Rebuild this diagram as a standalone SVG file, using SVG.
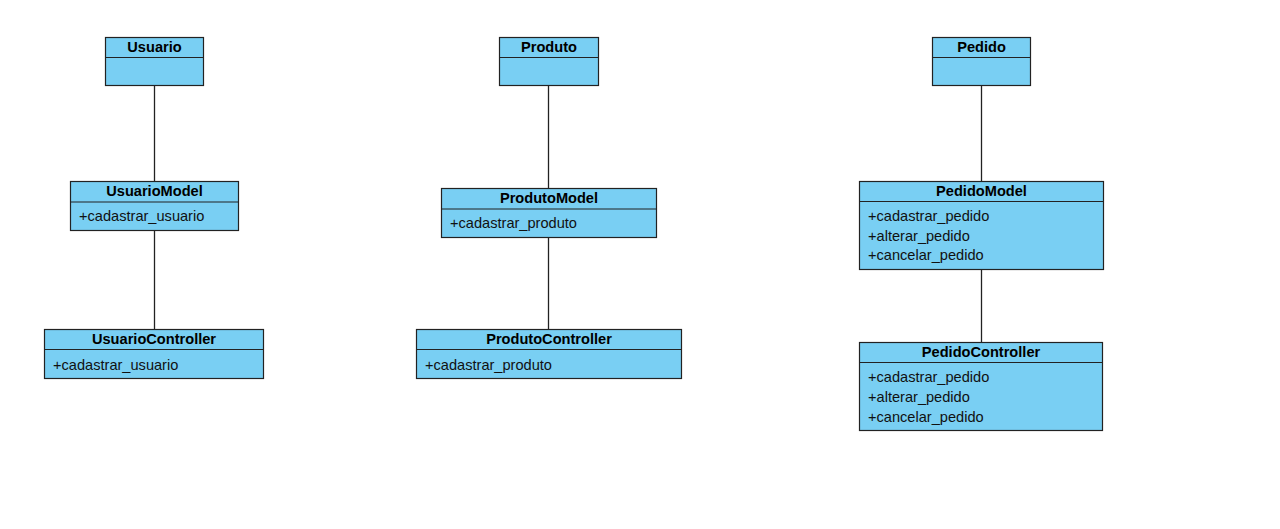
<svg xmlns="http://www.w3.org/2000/svg" width="1280" height="529" viewBox="0 0 1280 529">
<style>
.box{fill:#79cff3;stroke:#222;stroke-width:1.2}
.div{stroke:#222;stroke-width:1.2}
.conn{stroke:#222;stroke-width:1.3;fill:none}
.h{font-family:"Liberation Sans",Arial,sans-serif;font-size:14.6px;font-weight:bold;fill:#000;text-anchor:middle}
.t{font-family:"Liberation Sans",Arial,sans-serif;font-size:14.6px;fill:#111}
</style>
<rect width="1280" height="529" fill="#fff"/>
<g id="connectors">
<line class="conn" x1="154.5" y1="86" x2="154.5" y2="181"/>
<line class="conn" x1="154.5" y1="231" x2="154.5" y2="329"/>
<line class="conn" x1="548.5" y1="86" x2="548.5" y2="188"/>
<line class="conn" x1="548.5" y1="238" x2="548.5" y2="329"/>
<line class="conn" x1="981.5" y1="86" x2="981.5" y2="182"/>
<line class="conn" x1="981.5" y1="270" x2="981.5" y2="342"/>
</g>
<g id="Usuario">
<rect class="box" x="105.5" y="37.5" width="98" height="48"/>
<line class="div" x1="105.5" y1="57.5" x2="203.5" y2="57.5"/>
<text class="h" x="154.5" y="51.5">Usuario</text>
</g>
<g id="UsuarioModel">
<rect class="box" x="70.5" y="181.5" width="168" height="49"/>
<line class="div" x1="70.5" y1="202" x2="238.5" y2="202"/>
<text class="h" x="154.5" y="196">UsuarioModel</text>
<text class="t" x="79" y="220.5">+cadastrar_usuario</text>
</g>
<g id="UsuarioController">
<rect class="box" x="44.5" y="329.5" width="219" height="49"/>
<line class="div" x1="44.5" y1="349.5" x2="263.5" y2="349.5"/>
<text class="h" x="154" y="343.5">UsuarioController</text>
<text class="t" x="53" y="370">+cadastrar_usuario</text>
</g>
<g id="Produto">
<rect class="box" x="499.5" y="37.5" width="99" height="48"/>
<line class="div" x1="499.5" y1="57.5" x2="598.5" y2="57.5"/>
<text class="h" x="549" y="51.5">Produto</text>
</g>
<g id="ProdutoModel">
<rect class="box" x="441.5" y="188.5" width="215" height="49"/>
<line class="div" x1="441.5" y1="209" x2="656.5" y2="209"/>
<text class="h" x="549" y="203">ProdutoModel</text>
<text class="t" x="450" y="227.5">+cadastrar_produto</text>
</g>
<g id="ProdutoController">
<rect class="box" x="416.5" y="329.5" width="265" height="49"/>
<line class="div" x1="416.5" y1="349.5" x2="681.5" y2="349.5"/>
<text class="h" x="549" y="343.5">ProdutoController</text>
<text class="t" x="425" y="370">+cadastrar_produto</text>
</g>
<g id="Pedido">
<rect class="box" x="932.5" y="37.5" width="98" height="48"/>
<line class="div" x1="932.5" y1="57.5" x2="1030.5" y2="57.5"/>
<text class="h" x="981.5" y="51.5">Pedido</text>
</g>
<g id="PedidoModel">
<rect class="box" x="859.5" y="181.5" width="244" height="88"/>
<line class="div" x1="859.5" y1="201.5" x2="1103.5" y2="201.5"/>
<text class="h" x="981.5" y="196">PedidoModel</text>
<text class="t" x="868" y="220.5">+cadastrar_pedido</text>
<text class="t" x="868" y="240.5">+alterar_pedido</text>
<text class="t" x="868" y="260">+cancelar_pedido</text>
</g>
<g id="PedidoController">
<rect class="box" x="859.5" y="342.5" width="243" height="88"/>
<line class="div" x1="859.5" y1="362.5" x2="1102.5" y2="362.5"/>
<text class="h" x="981" y="357">PedidoController</text>
<text class="t" x="868" y="382">+cadastrar_pedido</text>
<text class="t" x="868" y="402">+alterar_pedido</text>
<text class="t" x="868" y="421.5">+cancelar_pedido</text>
</g>
</svg>
